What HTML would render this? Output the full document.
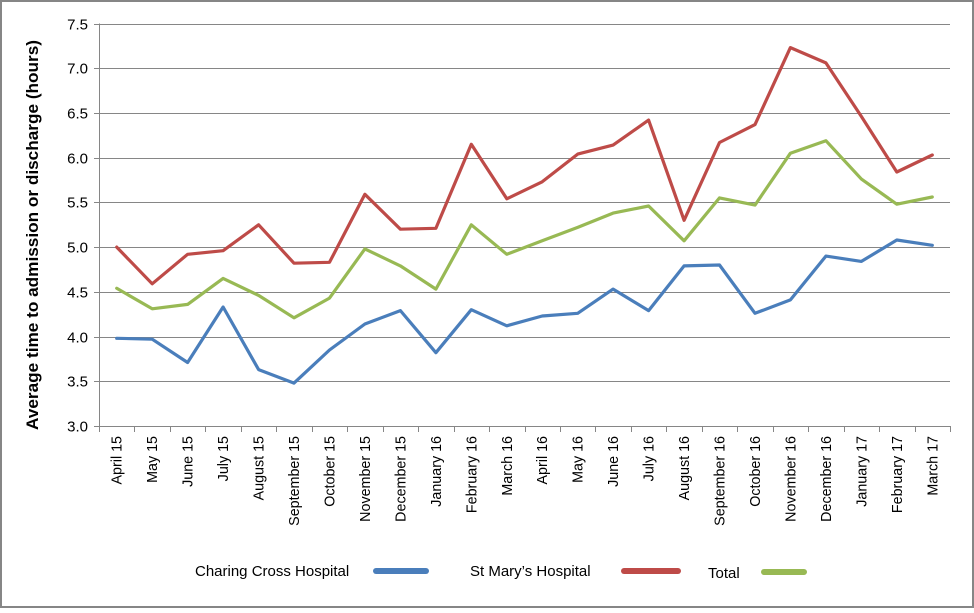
<!DOCTYPE html>
<html><head><meta charset="utf-8"><style>
html,body{margin:0;padding:0;background:#fff;}
</style></head><body>
<svg width="974" height="608" xmlns="http://www.w3.org/2000/svg" font-family="'Liberation Sans', sans-serif">
<rect x="1" y="1" width="972" height="606" fill="#fff" stroke="#868686" stroke-width="2"/>
<g id="grid" stroke="#868686" stroke-width="1"></g>
<g id="plot"></g>
<text transform="translate(38,235) rotate(-90)" text-anchor="middle" font-size="17" font-weight="bold" fill="#000" textLength="390" lengthAdjust="spacingAndGlyphs">Average time to admission  or discharge (hours)</text>
<g font-size="15" fill="#000">
<text x="195" y="576">Charing Cross Hospital</text>
<text x="470" y="576">St Mary’s Hospital</text>
<text x="708" y="578">Total</text>
</g>
<g stroke-width="6" stroke-linecap="round">
<line x1="376" y1="571" x2="426" y2="571" stroke="#4a7ebb"/>
<line x1="624" y1="571" x2="678" y2="571" stroke="#be4b48"/>
<line x1="764" y1="572" x2="804" y2="572" stroke="#98b954"/>
</g>
<script>
var ns="http://www.w3.org/2000/svg";
var x0=99,x1=950,yt=23.5,yb=426;
var cw=(x1-x0)/24;
function Y(v){return yb-(v-3)/4.5*(yb-yt);}
function X(i){return x0+cw*(i+0.5);}
var g=document.getElementById('grid'),p=document.getElementById('plot');
function el(par,t,a,txt){var e=document.createElementNS(ns,t);for(var k in a)e.setAttribute(k,a[k]);if(txt)e.textContent=txt;par.appendChild(e);return e;}
for(var k=0;k<=9;k++){var v=3+k*0.5,y=Math.round(Y(v))+0.5;
 el(g,'line',{x1:x0-5,x2:x1,y1:y,y2:y});
 el(p,'text',{x:x0-11,y:y+5,'text-anchor':'end','font-size':'15',fill:'#000'},v.toFixed(1));}
el(g,'line',{x1:x0+0.5,x2:x0+0.5,y1:yt,y2:yb+5});
for(var i=0;i<=24;i++){var x=Math.round(x0+cw*i)+0.5;el(g,'line',{x1:x,x2:x,y1:yb,y2:yb+6});}
var labs=["April 15","May 15","June 15","July 15","August 15","September 15","October 15","November 15","December 15","January 16","February 16","March 16","April 16","May 16","June 16","July 16","August 16","September 16","October 16","November 16","December 16","January 17","February 17","March 17"];
labs.forEach(function(l,i){el(p,'text',{transform:'translate('+(X(i)+5)+',436) rotate(-90)','text-anchor':'end','font-size':'14.3',fill:'#000'},l);});
var cc=[3.98,3.97,3.71,4.33,3.63,3.48,3.85,4.14,4.29,3.82,4.30,4.12,4.23,4.26,4.53,4.29,4.79,4.80,4.26,4.41,4.90,4.84,5.08,5.02];
var sm=[5.00,4.59,4.92,4.96,5.25,4.82,4.83,5.59,5.20,5.21,6.15,5.54,5.73,6.04,6.14,6.42,5.30,6.17,6.37,7.23,7.06,6.46,5.84,6.03];
var tt=[4.54,4.31,4.36,4.65,4.46,4.21,4.43,4.98,4.79,4.53,5.25,4.92,5.07,5.22,5.38,5.46,5.07,5.55,5.47,6.05,6.19,5.76,5.48,5.56];
[[cc,'#4a7ebb'],[sm,'#be4b48'],[tt,'#98b954']].forEach(function(s){
 el(p,'polyline',{points:s[0].map(function(v,i){return X(i).toFixed(1)+','+Y(v).toFixed(1);}).join(' '),fill:'none',stroke:s[1],'stroke-width':'3.2','stroke-linejoin':'round','stroke-linecap':'round'});});
</script>
</svg>
</body></html>
